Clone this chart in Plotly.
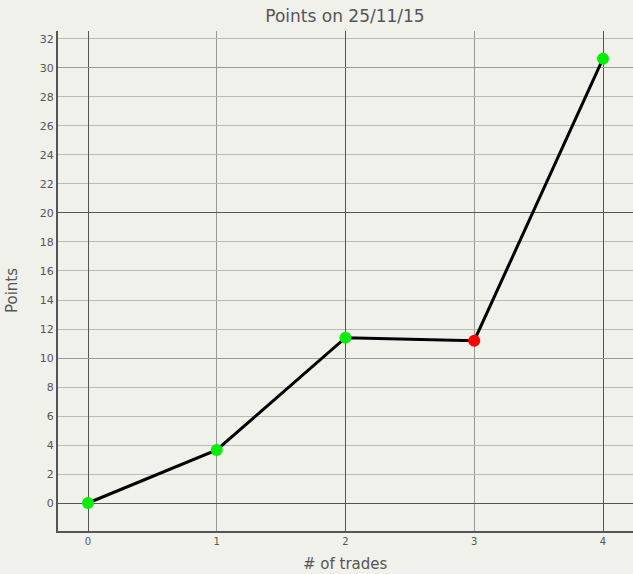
import plotly.graph_objects as go

trades = [0, 1, 2, 3, 4]
points = [0, 3.66, 11.4, 11.19, 30.64]
marker_colors = ["#00ee00", "#00ee00", "#00ee00", "#ff0000", "#00ee00"]
y_ticks = list(range(0, 33, 2))
x_ticks = [0, 1, 2, 3, 4]
dark_x = [0, 2, 4]
light_x = [1, 3]
dark_y = [0, 20]
mid_y = [10, 30]
light_y = [v for v in y_ticks if v not in dark_y + mid_y]

bg = "#f1f1ec"
XR = [-0.233, 4.233]
YR = [-1.93, 32.55]
DARK = "#555555"
MID = "#999999"
LIGHT = "#bbbbb5"

fig = go.Figure()
# empty traces so the grid-only overlay axes are drawn
fig.add_trace(go.Scatter(x=[None], y=[None], xaxis="x2", yaxis="y2", showlegend=False, hoverinfo="skip"))
fig.add_trace(go.Scatter(x=[None], y=[None], xaxis="x2", yaxis="y3", showlegend=False, hoverinfo="skip"))
fig.add_trace(go.Scatter(
    x=trades, y=points, mode="lines+markers",
    line=dict(color="black", width=3),
    marker=dict(color=marker_colors, size=12),
    showlegend=False,
))

fig.update_layout(
    width=633, height=574,
    paper_bgcolor=bg, plot_bgcolor=bg,
    margin=dict(l=58, r=0, t=31, b=43),
    font=dict(family="DejaVu Sans", color="#555555"),
    title=dict(text="Points on 25/11/15", x=0.545, xanchor="center", y=0.982, yanchor="top",
               font=dict(size=17, color="#555555", family="DejaVu Sans")),
    annotations=[
        dict(text="# of trades", xref="paper", yref="paper", x=0.5, y=-0.066,
             xanchor="center", yanchor="middle", showarrow=False,
             font=dict(size=15, color="#555555")),
        dict(text="Points", xref="paper", yref="paper", x=-0.08, y=0.48, textangle=-90,
             xanchor="center", yanchor="middle", showarrow=False,
             font=dict(size=15, color="#555555")),
    ],
    xaxis=dict(
        range=XR, tickvals=x_ticks, ticktext=[str(v) for v in x_ticks],
        showgrid=False, zeroline=False, automargin=False,
        showline=True, linecolor=DARK, linewidth=2, ticks="",
        tickfont=dict(size=10, color="#555555"),
    ),
    yaxis=dict(
        range=YR, tickvals=y_ticks, ticktext=[str(v) for v in y_ticks],
        showgrid=False, zeroline=False, automargin=False,
        showline=True, linecolor=DARK, linewidth=2, ticks="",
        tickfont=dict(size=11, color="#555555"),
    ),
    xaxis2=dict(
        range=XR, overlaying="x", tickmode="array", tickvals=dark_x, showticklabels=False,
        showgrid=True, gridcolor=DARK, gridwidth=1, zeroline=False, automargin=False,
        showline=False, ticks="",
        minor=dict(tickmode="array", tickvals=light_x, showgrid=True, gridcolor=MID, gridwidth=1),
    ),
    yaxis2=dict(
        range=YR, overlaying="y", tickmode="array", tickvals=dark_y, showticklabels=False,
        showgrid=True, gridcolor=DARK, gridwidth=1, zeroline=False, automargin=False,
        showline=False, ticks="",
        minor=dict(tickmode="array", tickvals=light_y, showgrid=True, gridcolor=LIGHT, gridwidth=1),
    ),
    yaxis3=dict(
        range=YR, overlaying="y", tickmode="array", tickvals=mid_y, showticklabels=False,
        showgrid=True, gridcolor=MID, gridwidth=1, zeroline=False, automargin=False,
        showline=False, ticks="",
    ),
)
fig.write_html("out.html", config={"displayModeBar": False},
               post_script="document.body.style.margin='0';document.body.style.background='%s';" % bg)
